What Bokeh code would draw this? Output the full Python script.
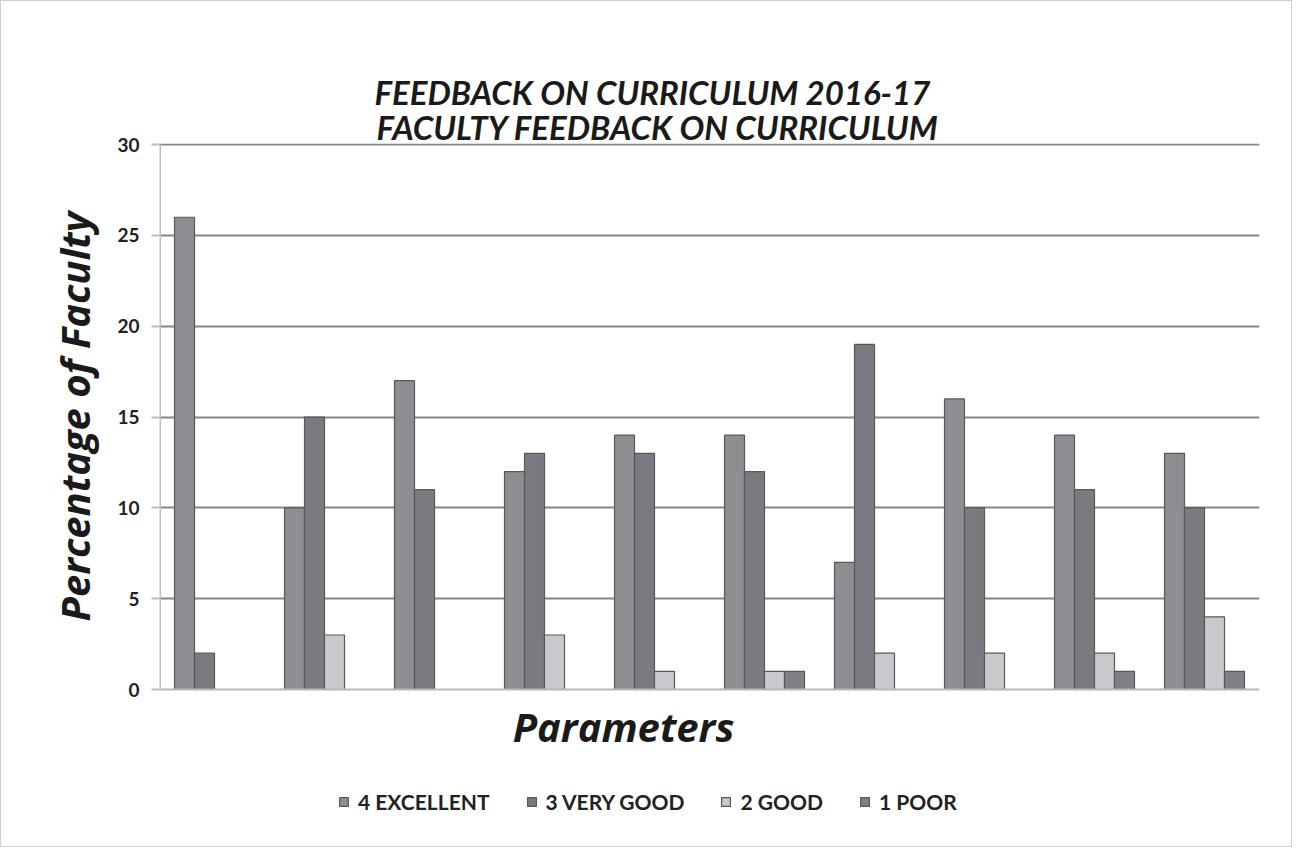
from bokeh.plotting import figure
from bokeh.models import (ColumnDataSource, Range1d, Legend, LegendItem, FixedTicker, Title,
                          Label, Span)
from bokeh.embed import file_html
from bokeh.resources import INLINE

groups = ["P1", "P2", "P3", "P4", "P5", "P6", "P7", "P8", "P9", "P10"]
series_names = ["4 EXCELLENT", "3 VERY GOOD", "2 GOOD", "1 POOR"]
excellent = [26, 10, 17, 12, 14, 14, 7, 16, 14, 13]
very_good = [2, 15, 11, 13, 13, 12, 19, 10, 11, 10]
good = [0, 3, 0, 3, 1, 1, 2, 2, 2, 4]
poor = [0, 0, 0, 0, 0, 1, 0, 0, 1, 1]
y_ticks = [0, 5, 10, 15, 20, 25, 30]

series_values = [excellent, very_good, good, poor]
colors = ["#8e8d92", "#7b7a80", "#cac8cc", "#808085"]

FONT = "Lato"

# plot area: 546 px for 0..30.06; frame extended 140 px below zero for x-title and legend
k = 546 / 30.06
below_px = 140
y_lo = -below_px / k

p = figure(width=1290, height=845, output_backend="svg", toolbar_location=None,
           x_range=Range1d(0, len(groups)), y_range=Range1d(y_lo, 30.06),
           frame_width=1100, frame_height=546 + below_px,
           min_border_left=158, min_border_top=142, min_border_right=32, min_border_bottom=17)
p.styles = {"border": "1px solid #cfcfcf"}

bw = 20 / 110.0
offsets = [-1.5 * bw, -0.5 * bw, 0.5 * bw, 1.5 * bw]
renderers = []
for vals, off, col in zip(series_values, offsets, colors):
    src = ColumnDataSource(dict(x=[i + 0.5 + off for i in range(len(groups))], top=vals))
    r = p.vbar(x="x", top="top", bottom=0, width=bw, source=src,
               fill_color=col, line_color="#58585c", line_width=1.2)
    renderers.append(r)

p.outline_line_color = None
p.xaxis.visible = False
p.xgrid.visible = False
p.ygrid.ticker = FixedTicker(ticks=y_ticks[1:])
p.ygrid.grid_line_color = "#858585"
p.ygrid.grid_line_width = 2
p.add_layout(Span(location=y_ticks[0], dimension="width", line_color="#b8b8b8", line_width=2))
p.segment(x0=[0], y0=[y_ticks[0]], x1=[0], y1=[y_ticks[-1]], line_color="#bdbdbd", line_width=3)

p.yaxis.ticker = FixedTicker(ticks=y_ticks)
p.yaxis.axis_line_color = None
p.yaxis.major_tick_line_color = "#bdbdbd"
p.yaxis.major_tick_line_width = 2
p.yaxis.major_tick_out = 8
p.yaxis.major_tick_in = 0
p.yaxis.minor_tick_line_color = None
p.yaxis.major_label_text_font = FONT
p.yaxis.major_label_text_font_style = "bold"
p.yaxis.major_label_text_font_size = "19px"
p.yaxis.major_label_text_color = "#222222"
p.yaxis.major_label_standoff = 12

p.add_layout(Title(text="Percentage of Faculty", align="left", offset=below_px + 68, standoff=25,
                   text_font="Open Sans", text_font_style="bold italic", text_font_size="40px",
                   text_color="#1a1a1a"), "left")

title_lines = ["FEEDBACK ON CURRICULUM 2016-17", "FACULTY FEEDBACK ON CURRICULUM"]
title_offsets = [215, 217]
for t, off in reversed(list(zip(title_lines, title_offsets))):
    p.add_layout(Title(text=t, align="left", offset=off, standoff=-7,
                       text_font=FONT, text_font_style="bold italic", text_font_size="33px",
                       text_color="#1a1a1a"), "above")

p.add_layout(Label(x=(630 - 166) / 110.0, y=-37 / k, text="Parameters",
                   text_align="center", text_baseline="middle", text_font="Open Sans",
                   text_font_style="bold italic", text_font_size="40px", text_color="#1a1a1a"))

legend = Legend(items=[LegendItem(label=n, renderers=[r]) for n, r in zip(series_names, renderers)],
                orientation="horizontal", location=(179, 15),
                label_text_font=FONT, label_text_font_style="bold", label_text_font_size="21px",
                label_text_color="#222222", glyph_width=11, glyph_height=11,
                spacing=36, label_standoff=9, border_line_color=None, background_fill_alpha=0,
                margin=0, padding=2)
p.add_layout(legend, "center")

open("out.html", "w").write(file_html(p, INLINE))
